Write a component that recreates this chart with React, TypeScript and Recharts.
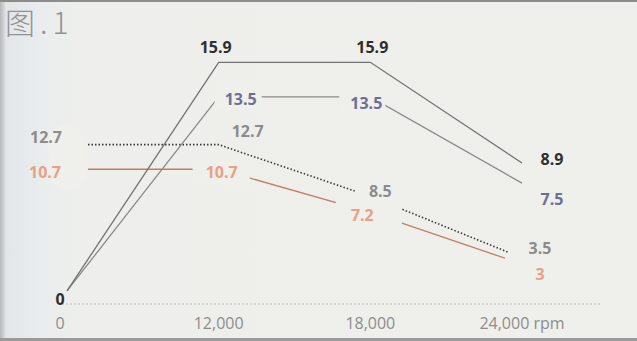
import { LabelList, Line, LineChart, XAxis, YAxis } from "recharts";

// x categories (evenly spaced in the source, not to scale)
const rpm = ["0", "12,000", "18,000", "24,000 rpm"];

// series
const peak = [0, 15.9, 15.9, 8.9];
const blue = [0, 13.5, 13.5, 7.5];
const dotted = [12.7, 12.7, 8.5, 3.5];
const orange = [10.7, 10.7, 7.2, 3];

const data = rpm.map((r, i) => ({
  rpm: r,
  peak: peak[i],
  blue: blue[i],
  dotted: dotted[i],
  orange: orange[i],
}));

const BG = "#efefeb";
const FONT = "'Open Sans', 'Liberation Sans', sans-serif";

type LabelSpec = { dx: number; dy: number; pad?: [number, number, number] } | null;

// label placement per point (style only)
const peakLabels: LabelSpec[] = [
  { dx: -7, dy: 8 },
  { dx: -3, dy: -15 },
  { dx: 2, dy: -15 },
  { dx: 30, dy: -4 },
];
const blueLabels: LabelSpec[] = [
  null,
  { dx: 22, dy: 2, pad: [10, 5, 3] },
  { dx: -4, dy: 6, pad: [11, 3, 3] },
  { dx: 30, dy: 16 },
];
const dottedLabels: LabelSpec[] = [
  { dx: -21, dy: -8 },
  { dx: 29, dy: -14 },
  { dx: 10, dy: -5, pad: [14, 10, 4] },
  { dx: 18, dy: -10 },
];
const orangeLabels: LabelSpec[] = [
  { dx: -22, dy: 3 },
  { dx: 3, dy: 3, pad: [13, 12, 5] },
  { dx: -8, dy: 3, pad: [15, 28, 6] },
  { dx: 18, dy: 10 },
];

// gaps the source leaves where a line meets its end points
const dottedGaps = [20, 0, 0, 15];
const orangeGaps = [21, 0, 0, 18];

function textWidth(s: string) {
  let w = 0;
  for (const ch of s) w += ch === "." || ch === "," ? 4.6 : 9.2;
  return w;
}

function makeLabel(spec: LabelSpec[], color: string) {
  return (props: any) => {
    const { x, y, index, value } = props;
    const s = spec[index];
    if (!s) return <g key={`l-${index}`} />;
    const cx = Number(x) + s.dx;
    const cy = Number(y) + s.dy;
    const text = String(value);
    const w = textWidth(text);
    return (
      <g key={`l-${index}`}>
        {s.pad && (
          <rect
            x={cx - w / 2 - s.pad[0]}
            y={cy - 8 - s.pad[2]}
            width={w + s.pad[0] + s.pad[1]}
            height={16 + 2 * s.pad[2]}
            fill={BG}
          />
        )}
        <text
          x={cx}
          y={cy}
          textAnchor="middle"
          dominantBaseline="central"
          fill={color}
          fontSize={16}
          fontWeight={700}
          fontFamily={FONT}
        >
          {text}
        </text>
      </g>
    );
  };
}

function makeGap(radii: number[]) {
  return (props: any) => {
    const { cx, cy, index } = props;
    const r = radii[index] ?? 0;
    if (!r) return <g key={`m-${index}`} />;
    return <circle key={`m-${index}`} cx={cx} cy={cy} r={r} fill={BG} />;
  };
}

function Tick(props: any) {
  const { x, y, payload, index } = props;
  return (
    <text
      x={x + (index === 0 ? -7 : 0)}
      y={y}
      dy="0.71em"
      textAnchor="middle"
      fill="#8d8d8d"
      fontSize={16}
      fontFamily={FONT}
    >
      {payload.value}
    </text>
  );
}

export default function App() {
  return (
    <div
      style={{
        position: "absolute",
        left: 0,
        top: 0,
        width: 637,
        height: 341,
        background:
          "linear-gradient(to right, #b8b8b8 0px, #c9cdd0 3px, #e2e6e9 6px, #eaedee 40px, #eeefec 80px, #efefeb 100%)",
        borderTop: "2px solid #8c8c8c",
        borderBottom: "3px solid #9a9a9a",
        boxSizing: "border-box",
        overflow: "hidden",
      }}
    >
      <div
        style={{
          position: "absolute",
          left: 5,
          top: 1,
          fontSize: 30,
          color: "#929292",
          fontFamily: "'Noto Sans CJK SC', 'Open Sans', sans-serif",
          fontWeight: 300,
          lineHeight: "36px",
          letterSpacing: 5,
        }}
      >
        图.1
      </div>
      <LineChart
        width={637}
        height={336}
        data={data}
        margin={{ top: 31, right: 37, bottom: 4, left: 62 }}
      >
        <XAxis
          dataKey="rpm"
          height={30}
          interval={0}
          padding={{ left: 5, right: 78 }}
          tickLine={false}
          tickSize={0}
          tickMargin={14}
          axisLine={{ stroke: "#bdbdbd", strokeDasharray: "2 2" }}
          tick={<Tick />}
        />
        <YAxis yAxisId="l" hide type="number" domain={[-0.91, 17.94]} allowDataOverflow />
        <YAxis yAxisId="r" hide type="number" domain={[-0.25, 21.77]} allowDataOverflow />

        <Line
          yAxisId="r"
          type="linear"
          dataKey="orange"
          stroke="#c47c62"
          strokeWidth={1.3}
          dot={makeGap(orangeGaps)}
          activeDot={false}
          isAnimationActive={false}
        >
          <LabelList dataKey="orange" content={makeLabel(orangeLabels, "#e8a283")} />
        </Line>
        <Line
          yAxisId="r"
          type="linear"
          dataKey="dotted"
          stroke="#3a3a3a"
          strokeWidth={1.6}
          strokeDasharray="1.5 2"
          dot={makeGap(dottedGaps)}
          activeDot={false}
          isAnimationActive={false}
        >
          <LabelList dataKey="dotted" content={makeLabel(dottedLabels, "#8c8c8c")} />
        </Line>
        <Line
          yAxisId="l"
          type="linear"
          dataKey="blue"
          stroke="#8a8a8a"
          strokeWidth={1.3}
          dot={false}
          activeDot={false}
          isAnimationActive={false}
        >
          <LabelList dataKey="blue" content={makeLabel(blueLabels, "#6b6f98")} />
        </Line>
        <Line
          yAxisId="l"
          type="linear"
          dataKey="peak"
          stroke="#727272"
          strokeWidth={1.3}
          dot={false}
          activeDot={false}
          isAnimationActive={false}
        >
          <LabelList dataKey="peak" content={makeLabel(peakLabels, "#2e2e2e")} />
        </Line>
      </LineChart>
    </div>
  );
}
